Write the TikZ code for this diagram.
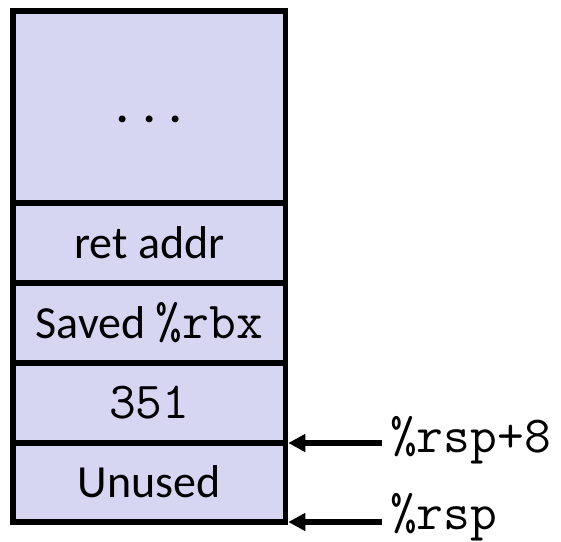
\documentclass[tikz,border=0pt]{standalone}
\usepackage{fontspec}
\setmainfont{Carlito}
\usetikzlibrary{arrows.meta}
\definecolor{stackfill}{RGB}{214,214,242}
\newcommand{\regtext}[1]{{\fontsize{52}{56}\selectfont\ttfamily #1}}
\begin{document}
\begin{tikzpicture}[x=1pt,y=-1pt,
  cell/.style={draw=black, fill=stackfill, line width=5.5pt, rectangle,
    minimum width=272.5pt, inner sep=0pt, outer sep=0pt, text height=30pt, text depth=0pt,
    font=\fontsize{46}{50}\selectfont},
  ptr/.style={line width=6pt, -{Triangle[length=17pt,width=17pt]}},
  reg/.style={anchor=base west, inner sep=0pt}
]
\useasboundingbox (0,0) rectangle (561,541);
\node[cell, minimum height=192pt] (dots) at (149.25,107) {\bfseries . . .};
\node[cell, minimum height=80pt] (ret) at (149.25,243) {ret addr};
\node[cell, minimum height=80pt] (saved) at (149.25,323) {Saved \regtext{\%rbx}};
\node[cell, minimum height=80pt] (val) at (149.25,403) {\regtext{351}};
\node[cell, minimum height=79pt] (unused) at (149.25,482.5) {Unused};
\coordinate (t8) at (382,443);
\coordinate (t0) at (382,522);
\node[reg] (rsp8) at (390,452) {\regtext{\%rsp+8}};
\node[reg] (rsp) at (390,529) {\regtext{\%rsp}};
\draw[ptr] (t8) -- ([xshift=2.75pt]val.south east);
\draw[ptr] (t0) -- ([xshift=2.75pt]unused.south east);
\end{tikzpicture}
\end{document}
